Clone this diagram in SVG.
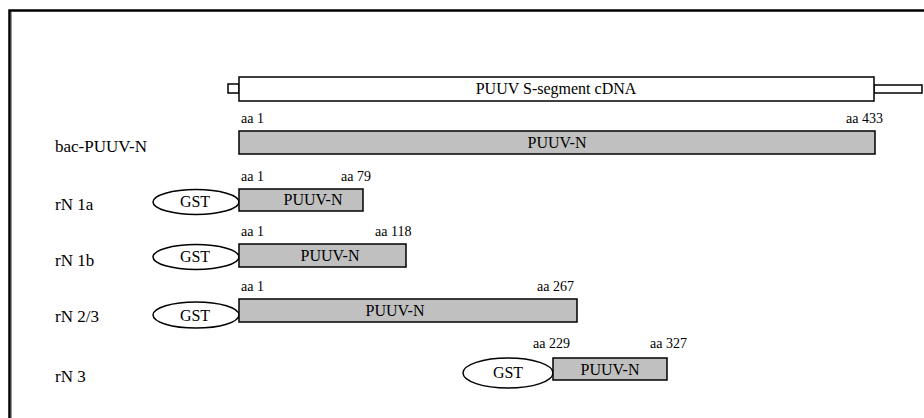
<svg xmlns="http://www.w3.org/2000/svg" width="924" height="418" viewBox="0 0 924 418">
<style>
text{font-family:"Liberation Serif","Times New Roman",serif;fill:#000}
.lbl{font-size:17px}
.aa{font-size:14px}
.in{font-size:16px;text-anchor:middle}
.bar{fill:#c0c0c0;stroke:#000;stroke-width:1.5}
.gst{fill:#fff;stroke:#000;stroke-width:1.5}
.wb{fill:#fff;stroke:#000;stroke-width:1.5}
</style>
<rect width="924" height="418" fill="#fff"/>
<path d="M9.5 418 V10.5 H924" fill="none" stroke="#000" stroke-width="2.5"/>
<line x1="11.5" y1="12" x2="11.5" y2="418" stroke="#999" stroke-width="1"/>
<g id="cdna">
<rect class="wb" x="228" y="84" width="11" height="9"/>
<rect class="wb" x="874" y="85" width="48" height="8"/>
<rect class="wb" x="239" y="77" width="635" height="24"/>
<text class="in" x="556" y="94">PUUV S-segment cDNA</text>
</g>
<g id="bac">
<text class="lbl" x="55" y="152">bac-PUUV-N</text>
<text class="aa" x="241" y="123">aa 1</text>
<text class="aa" x="846" y="123">aa 433</text>
<rect class="bar" x="239" y="131" width="636" height="23"/>
<text class="in" x="557" y="148">PUUV-N</text>
</g>
<g id="rN1a">
<text class="lbl" x="55" y="210">rN 1a</text>
<text class="aa" x="241" y="181">aa 1</text>
<text class="aa" x="341" y="181">aa 79</text>
<ellipse class="gst" cx="196" cy="202" rx="43" ry="12.5"/>
<text class="in" x="195" y="207">GST</text>
<rect class="bar" x="239" y="189" width="124" height="22"/>
<text class="in" x="313" y="205">PUUV-N</text>
</g>
<g id="rN1b">
<text class="lbl" x="55" y="266">rN 1b</text>
<text class="aa" x="241" y="236">aa 1</text>
<text class="aa" x="375" y="236">aa 118</text>
<ellipse class="gst" cx="196" cy="257" rx="43" ry="12.5"/>
<text class="in" x="195" y="262">GST</text>
<rect class="bar" x="239" y="244" width="167" height="23"/>
<text class="in" x="330" y="261">PUUV-N</text>
</g>
<g id="rN23">
<text class="lbl" x="55" y="322">rN 2/3</text>
<text class="aa" x="241" y="291">aa 1</text>
<text class="aa" x="537" y="291">aa 267</text>
<ellipse class="gst" cx="196" cy="315" rx="43" ry="13"/>
<text class="in" x="195" y="321">GST</text>
<rect class="bar" x="239" y="299" width="338" height="23"/>
<text class="in" x="395" y="316">PUUV-N</text>
</g>
<g id="rN3">
<text class="lbl" x="55" y="382">rN 3</text>
<text class="aa" x="533" y="348">aa 229</text>
<text class="aa" x="650" y="348">aa 327</text>
<ellipse class="gst" cx="508" cy="373" rx="45" ry="15"/>
<text class="in" x="508" y="378">GST</text>
<rect class="bar" x="553" y="358" width="114" height="22"/>
<text class="in" x="610" y="375">PUUV-N</text>
</g>
</svg>
